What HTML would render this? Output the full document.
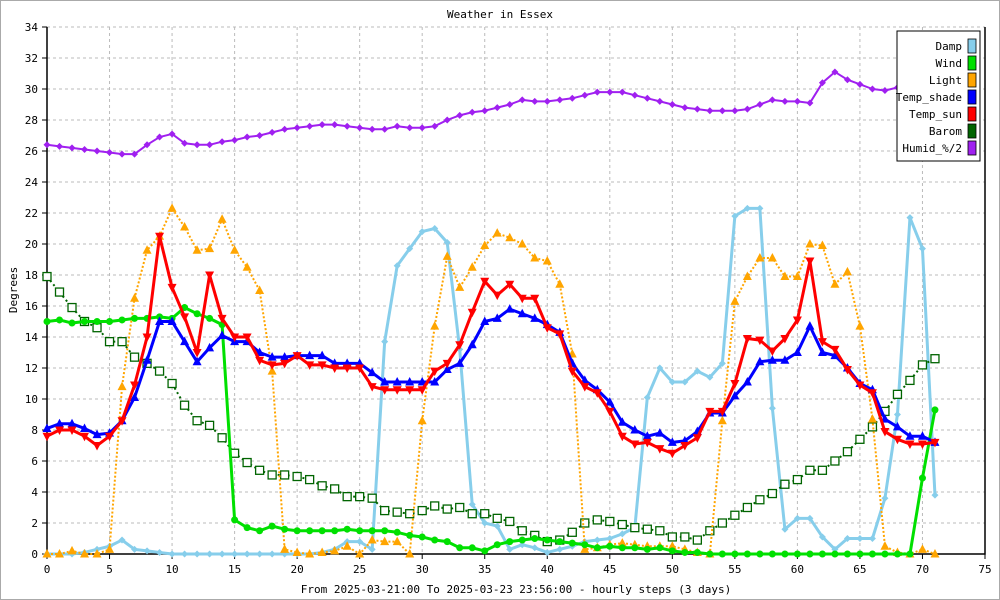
<!DOCTYPE html>
<html><head><meta charset="utf-8"><style>
body{margin:0;background:#fff}
svg{display:block}
text{font-family:"DejaVu Sans Mono","Liberation Mono",monospace;font-size:11px;fill:#000}
</style></head><body>
<svg id="chart" width="1000" height="600" xmlns="http://www.w3.org/2000/svg">
<rect x="0.5" y="0.5" width="999" height="599" fill="#fff" stroke="#aaa"/>
<text x="500" y="18" text-anchor="middle" font-size="13">Weather in Essex</text>
<text x="0" y="0" transform="translate(17,290) rotate(-90)" text-anchor="middle">Degrees</text>
<text x="516" y="593" text-anchor="middle">From 2025-03-21:00 To 2025-03-23 23:56:00 - hourly steps (3 days)</text>
<g id="grid"></g>
<g id="axes"></g>
<g id="series"></g>
<g id="legend"></g>
</svg>
<script>
const xTicks=[0,5,10,15,20,25,30,35,40,45,50,55,60,65,70,75];
const yTicks=[0,2,4,6,8,10,12,14,16,18,20,22,24,26,28,30,32,34];
const damp=[0,0,0,0.1,0.3,0.5,0.9,0.3,0.2,0.1,0,0,0,0,0,0,0,0,0,0,0,0,0.1,0.3,0.8,0.8,0.3,13.7,18.6,19.7,20.8,21,20.1,13.2,3.2,2,1.8,0.3,0.6,0.4,0.1,0.3,0.5,0.8,0.9,1,1.3,1.7,10.1,12,11.1,11.1,11.8,11.4,12.3,21.8,22.3,22.3,9.4,1.6,2.3,2.3,1.1,0.3,1,1,1,3.6,9,21.7,19.7,3.8];
const wind=[15,15.1,14.9,15,15,15,15.1,15.2,15.2,15.3,15.2,15.9,15.5,15.2,14.8,2.2,1.7,1.5,1.8,1.6,1.5,1.5,1.5,1.5,1.6,1.5,1.5,1.5,1.4,1.2,1.1,0.9,0.8,0.4,0.4,0.2,0.6,0.8,0.9,1,0.9,0.8,0.7,0.6,0.4,0.5,0.4,0.4,0.3,0.4,0.2,0.1,0.1,0,0,0,0,0,0,0,0,0,0,0,0,0,0,0,0,0,4.9,9.3];
const light=[0,0,0.2,0,0,0.3,10.8,16.5,19.6,20.5,22.3,21.1,19.6,19.7,21.6,19.6,18.5,17,11.8,0.3,0.1,0,0.1,0.2,0.5,0,0.9,0.8,0.8,0,8.6,14.7,19.2,17.2,18.5,19.9,20.7,20.4,20,19.1,18.9,17.4,12.9,0.3,0.4,0.6,0.7,0.6,0.5,0.5,0.5,0.3,0.1,0,8.6,16.3,17.9,19.1,19.1,17.9,17.9,20,19.9,17.4,18.2,14.7,8.7,0.5,0.1,0,0.3,0];
const tempShade=[8.1,8.4,8.4,8.1,7.7,7.8,8.6,10.1,12.5,15,15,13.7,12.4,13.3,14.1,13.7,13.7,13,12.7,12.7,12.8,12.8,12.8,12.3,12.3,12.3,11.7,11.1,11.1,11.1,11.1,11.1,11.9,12.3,13.5,15,15.2,15.8,15.5,15.2,14.8,14.3,12.3,11.2,10.6,9.8,8.5,8,7.6,7.8,7.2,7.3,7.9,9.1,9.1,10.2,11.1,12.4,12.5,12.5,13,14.7,13,12.8,12,11,10.6,8.7,8.2,7.6,7.6,7.2];
const tempSun=[7.6,8,8,7.6,7,7.6,8.6,10.9,14,20.5,17.2,15.3,13,18,15.2,14,14,12.5,12.2,12.3,12.8,12.2,12.2,12,12,12,10.8,10.6,10.6,10.6,10.6,11.8,12.3,13.5,15.6,17.6,16.7,17.4,16.5,16.5,14.6,14.2,11.8,10.8,10.4,9.2,7.6,7.1,7.2,6.8,6.5,7,7.5,9.2,9.2,11,13.9,13.8,13.1,13.9,15.1,18.9,13.7,13.2,11.9,10.9,10.4,7.9,7.4,7.1,7.1,7.2];
const barom=[17.9,16.9,15.9,15,14.6,13.7,13.7,12.7,12.3,11.8,11,9.6,8.6,8.3,7.5,6.5,5.9,5.4,5.1,5.1,5,4.8,4.4,4.2,3.7,3.7,3.6,2.8,2.7,2.6,2.8,3.1,2.9,3,2.6,2.6,2.3,2.1,1.5,1.2,0.8,0.9,1.4,2,2.2,2.1,1.9,1.7,1.6,1.5,1.1,1.1,0.9,1.5,2,2.5,3,3.5,3.9,4.5,4.8,5.4,5.4,6,6.6,7.4,8.2,9.2,10.3,11.2,12.2,12.6];
const humid=[26.4,26.3,26.2,26.1,26,25.9,25.8,25.8,26.4,26.9,27.1,26.5,26.4,26.4,26.6,26.7,26.9,27,27.2,27.4,27.5,27.6,27.7,27.7,27.6,27.5,27.4,27.4,27.6,27.5,27.5,27.6,28,28.3,28.5,28.6,28.8,29,29.3,29.2,29.2,29.3,29.4,29.6,29.8,29.8,29.8,29.6,29.4,29.2,29,28.8,28.7,28.6,28.6,28.6,28.7,29,29.3,29.2,29.2,29.1,30.4,31.1,30.6,30.3,30,29.9,30.1,30,30,30];
const legendLabels=["Damp","Wind","Light","Temp_shade","Temp_sun","Barom","Humid_%/2"];

const NS="http://www.w3.org/2000/svg";
const X0=47,X1=985,Y0=554,Y1=27;
const xs=v=>X0+(X1-X0)*v/75;
const ys=v=>Y0-(Y0-Y1)*v/34;
function mk(tag,attrs,parent){const e=document.createElementNS(NS,tag);for(const k in attrs)e.setAttribute(k,attrs[k]);parent.appendChild(e);return e;}
const grid=document.getElementById('grid'),axes=document.getElementById('axes'),ser=document.getElementById('series'),leg=document.getElementById('legend');

xTicks.forEach(t=>{
  if(t>0&&t<75){const l=mk('line',{x1:xs(t),x2:xs(t),y1:Y1,y2:Y0,stroke:'#bbb','stroke-dasharray':'3,3'},grid);
  
  }
  const tk=mk('line',{x1:xs(t),x2:xs(t),y1:Y0,y2:Y0+5,stroke:'#000'},axes);
  
  
  const tx=mk('text',{x:xs(t),y:Y0+19,'text-anchor':'middle'},axes);tx.textContent=t;
  
  
});
yTicks.forEach(t=>{
  if(t>0){const l=mk('line',{x1:X0,x2:X1,y1:ys(t),y2:ys(t),stroke:'#bbb','stroke-dasharray':'3,3'},grid);
  
  }
  const tk=mk('line',{x1:X0-5,x2:X0,y1:ys(t),y2:ys(t),stroke:'#000'},axes);
  
  
  const tx=mk('text',{x:X0-9,y:ys(t)+4,'text-anchor':'end'},axes);tx.textContent=t;
  
  
});
const ax=mk('path',{d:`M${X0},${Y1}V${Y0}H${X1}V${Y1}`,fill:'none',stroke:'#000','stroke-width':1.5},axes);



function marker(type,x,y,col,g){
  let e;
  if(type==='circle')e=mk('circle',{cx:x,cy:y,r:3.5,fill:col},g);
  else if(type==='up')e=mk('polygon',{points:`${x},${y-5} ${x-4.5},${y+3.5} ${x+4.5},${y+3.5}`,fill:col},g);
  else if(type==='down')e=mk('polygon',{points:`${x},${y+5} ${x-4.5},${y-3.5} ${x+4.5},${y-3.5}`,fill:col},g);
  else if(type==='square'){e=mk('rect',{x:x-4,y:y-4,width:8,height:8,fill:'#fff',stroke:col,'stroke-width':1.3},g);}
  else if(type==='diamond')e=mk('polygon',{points:`${x},${y-3.5} ${x+3.5},${y} ${x},${y+3.5} ${x-3.5},${y}`,fill:col},g);
  
  
}
const seriesDefs=[
 {name:'damp',d:damp,col:'#87ceeb',w:3,dash:null,m:'diamond'},
 {name:'barom',d:barom,col:'#006400',w:2,dash:'2,3',m:'square'},
 {name:'light',d:light,col:'#ffa500',w:2,dash:'2,2',m:'up'},
 {name:'wind',d:wind,col:'#00e000',w:3,dash:null,m:'circle'},
 {name:'temp-shade',d:tempShade,col:'#0000ff',w:3,dash:null,m:'up'},
 {name:'temp-sun',d:tempSun,col:'#ff0000',w:3,dash:null,m:'down'},
 {name:'humid',d:humid,col:'#a020f0',w:2,dash:null,m:'diamond'}
];
seriesDefs.forEach(s=>{
  const g=mk('g',{},ser);
  
  
  const pts=s.d.map((v,i)=>xs(i)+','+ys(v)).join(' ');
  const a={points:pts,fill:'none',stroke:s.col,'stroke-width':s.w,'stroke-linejoin':'round'};
  if(s.dash)a['stroke-dasharray']=s.dash;
  const pl=mk('polyline',a,g);
  
  
  s.d.forEach((v,i)=>marker(s.m,xs(i),ys(v),s.col,g));
});

const bx=mk('rect',{x:897,y:31,width:83,height:130,fill:'#fff',stroke:'#000'},leg);


const legCols=['#87ceeb','#00e000','#ffa500','#0000ff','#ff0000','#006400','#a020f0'];
legendLabels.forEach((lab,i)=>{
  const y=46+i*17;
  const t=mk('text',{x:962,y:y+4,'text-anchor':'end'},leg);t.textContent=lab;
  
  
  const r=mk('rect',{x:968,y:y-7,width:8,height:14,fill:legCols[i],stroke:'#000','stroke-width':0.8},leg);
  
  
});
</script>
</body></html>
